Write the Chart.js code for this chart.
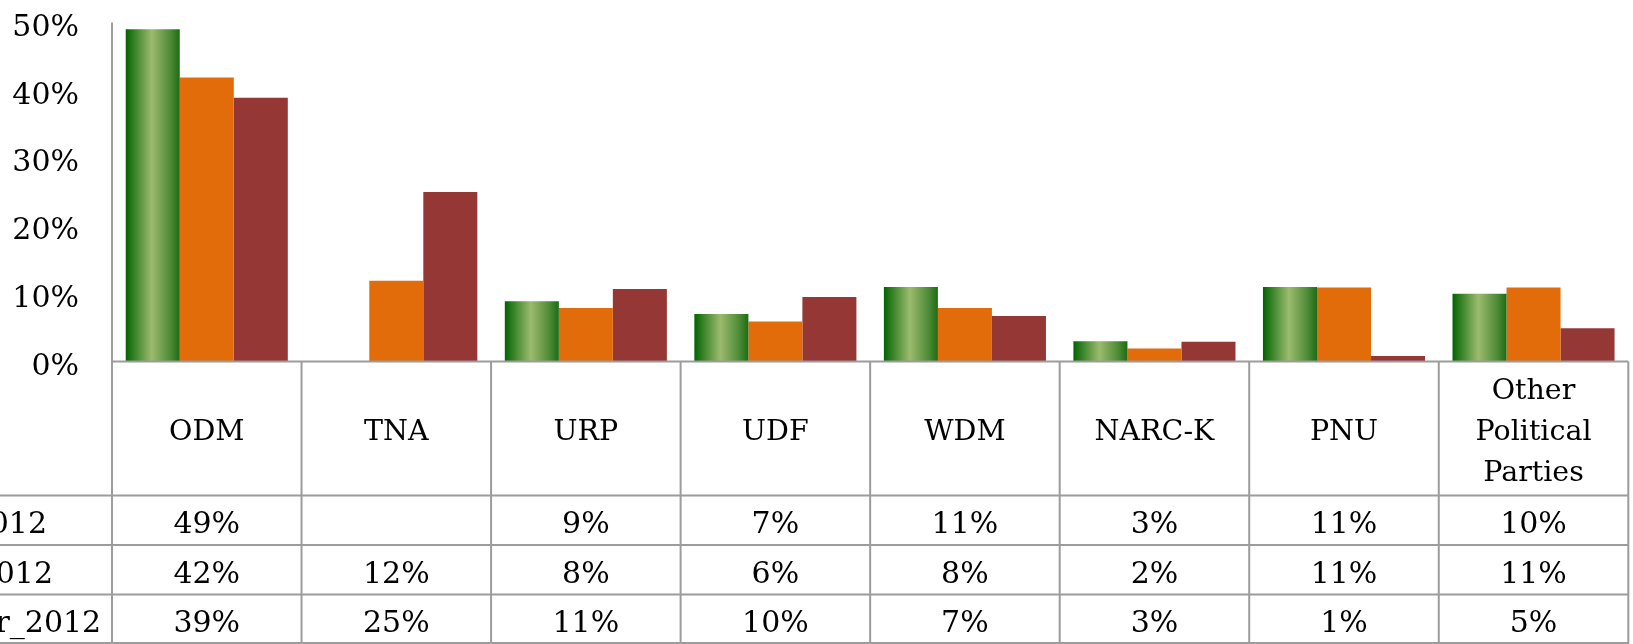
<!DOCTYPE html>
<html>
<head>
<meta charset="utf-8">
<script src="https://cdn.jsdelivr.net/npm/chart.js@4.4.1/dist/chart.umd.min.js"></script>
<style>
  html, body { margin: 0; padding: 0; background: #fff; }
</style>
</head>
<body>
<canvas id="chart" width="1633" height="644"></canvas>
<script>
const categories = ['ODM', 'TNA', 'URP', 'UDF', 'WDM', 'NARC-K', 'PNU', ['Other', 'Political', 'Parties']];
const seriesNames = ['Jan_2012', 'Apr_2012', 'Winter_2012'];
const series1 = [49, null, 8.9, 7.0, 11.0, 3.0, 11.0, 10.0];
const series2 = [41.9, 11.9, 7.9, 5.9, 7.9, 1.9, 10.9, 10.9];
const series3 = [38.9, 25.0, 10.7, 9.5, 6.7, 2.9, 0.8, 4.9];
const yMax = 50;
const yStep = 10;

const FONT = '"DejaVu Serif", serif';
const LINE = '#9c9c9c';
const catPct = 0.855;

// green bars get a cylinder-like horizontal gradient, one per bar
function greenFill(context) {
  const chart = context.chart;
  const area = chart.chartArea;
  if (!area || !chart.scales.x) return '#3d8a2a';
  const x = chart.scales.x;
  const step = (area.right - area.left) / categories.length;
  const barW = step * catPct / 3;
  const left = x.getPixelForValue(context.dataIndex) - 1.5 * barW;
  const g = chart.ctx.createLinearGradient(left, 0, left + barW, 0);
  g.addColorStop(0, '#006400');
  g.addColorStop(0.12, '#2a7a1e');
  g.addColorStop(0.48, '#9cbb6e');
  g.addColorStop(0.82, '#4f8c38');
  g.addColorStop(1, '#1c6c14');
  return g;
}

const dataTable = {
  id: 'dataTable',
  afterDraw(chart) {
    const { ctx, chartArea } = chart;
    const H = chart.height;
    const n = categories.length;
    const step = (chartArea.right - chartArea.left) / n;
    const rowH = 49.5;
    const headBottom = H - 3 * rowH;
    const rows = [series1, series2, series3];

    ctx.save();
    ctx.strokeStyle = LINE;
    ctx.lineWidth = 2;
    ctx.beginPath();
    // axis line / header top
    ctx.moveTo(chartArea.left, chartArea.bottom);
    ctx.lineTo(chartArea.right, chartArea.bottom);
    for (let i = 0; i < 3; i++) {
      const y = headBottom + i * rowH;
      ctx.moveTo(0, y);
      ctx.lineTo(chartArea.right, y);
    }
    ctx.moveTo(0, H - 1);
    ctx.lineTo(chartArea.right, H - 1);
    ctx.moveTo(chartArea.left, chartArea.top);
    ctx.lineTo(chartArea.left, H);
    for (let i = 1; i <= n; i++) {
      const x = chartArea.left + i * step;
      ctx.moveTo(x, chartArea.bottom);
      ctx.lineTo(x, H);
    }
    ctx.stroke();

    ctx.fillStyle = '#000';
    ctx.textBaseline = 'alphabetic';
    ctx.textAlign = 'center';
    categories.forEach((c, i) => {
      const cx = chartArea.left + (i + 0.5) * step;
      const lines = Array.isArray(c) ? c : [c];
      ctx.font = '28.5px ' + FONT;
      lines.forEach((t, k) => {
        ctx.fillText(t, cx, chartArea.bottom + 78.5 + (k - (lines.length - 1) / 2) * 41);
      });
      ctx.font = '30px ' + FONT;
      rows.forEach((s, r) => {
        const v = s[i];
        if (v == null) return;
        ctx.fillText(Math.round(v) + '%', cx, headBottom + r * rowH + 37.5);
      });
    });

    // series names, cut off by the left edge as in the original
    ctx.textAlign = 'left';
    ctx.font = '30px ' + FONT;
    const x0 = 47 - ctx.measureText(seriesNames[0]).width;
    seriesNames.forEach((name, r) => {
      ctx.fillText(name, x0, headBottom + r * rowH + 37.5);
    });
    ctx.restore();
  }
};

new Chart(document.getElementById('chart'), {
  type: 'bar',
  data: {
    labels: categories,
    datasets: [
      { label: seriesNames[0], data: series1, backgroundColor: greenFill },
      { label: seriesNames[1], data: series2, backgroundColor: '#e36c0a' },
      { label: seriesNames[2], data: series3, backgroundColor: '#953735' }
    ]
  },
  options: {
    responsive: false,
    animation: false,
    layout: { padding: { top: 22.5, right: 4.7, left: 0, bottom: 0 } },
    datasets: { bar: { categoryPercentage: catPct, barPercentage: 1 } },
    plugins: { legend: { display: false }, tooltip: { enabled: false } },
    scales: {
      x: {
        grid: { display: false },
        border: { display: false },
        ticks: { display: false },
        afterFit(scale) { scale.height = 282.5; }
      },
      y: {
        min: 0,
        max: yMax,
        grid: { display: false },
        border: { display: false },
        ticks: {
          stepSize: yStep,
          padding: 25,
          color: '#000',
          font: { family: FONT, size: 30 },
          labelOffset: 5.5,
          callback: v => v + '%'
        },
        afterFit(scale) {
          scale.width = 112;
          scale.paddingTop = 0;
          scale.paddingBottom = 0;
        }
      }
    }
  },
  plugins: [dataTable]
});
</script>
</body>
</html>
